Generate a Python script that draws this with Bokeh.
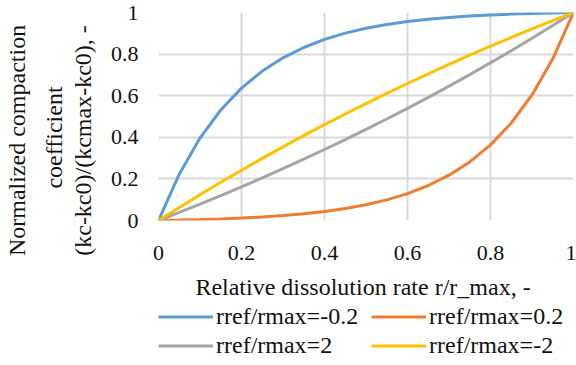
from bokeh.plotting import figure
from bokeh.models import Legend, LegendItem, FixedTicker, Range1d, CustomJSTickFormatter, LinearAxis
from bokeh.layouts import column
from bokeh.embed import file_html
from bokeh.resources import INLINE

x = [0, 0.05, 0.1, 0.15, 0.2, 0.25, 0.3, 0.35, 0.4, 0.45, 0.5,
     0.55, 0.6, 0.65, 0.7, 0.75, 0.8, 0.85, 0.9, 0.95, 1]
y_m02 = [0, 0.2227, 0.3961, 0.5312, 0.6364, 0.7183, 0.7821, 0.8318, 0.8705, 0.9007, 0.9241,
         0.9424, 0.9567, 0.9677, 0.9764, 0.9831, 0.9883, 0.9924, 0.9956, 0.9981, 1]
y_p02 = [0, 0.0019, 0.0044, 0.0076, 0.0117, 0.0169, 0.0236, 0.0323, 0.0433, 0.0576, 0.0759,
         0.0993, 0.1295, 0.1682, 0.2179, 0.2817, 0.3636, 0.4688, 0.6039, 0.7773, 1]
y_p2 = [0, 0.0390, 0.0790, 0.1201, 0.1621, 0.2052, 0.2495, 0.2948, 0.3413, 0.3890, 0.4378,
        0.4880, 0.5393, 0.5920, 0.6460, 0.7014, 0.7581, 0.8164, 0.8761, 0.9373, 1]
y_m2 = [0, 0.0627, 0.1239, 0.1836, 0.2419, 0.2986, 0.3540, 0.4080, 0.4607, 0.5120, 0.5622,
        0.6110, 0.6587, 0.7052, 0.7505, 0.7948, 0.8379, 0.8799, 0.9210, 0.9610, 1]

series_names = ["rref/rmax=-0.2", "rref/rmax=0.2", "rref/rmax=2", "rref/rmax=-2"]
series_values = [y_m02, y_p02, y_p2, y_m2]
colors = ["#5B9BD5", "#ED7D31", "#A5A5A5", "#FFC000"]

ticks = [0, 0.2, 0.4, 0.6, 0.8, 1]
x_title = "Relative  dissolution rate r/r_max, -"
y_title_lines = ["Normalized  compaction", "coefficient", "(kc-kc0)/(kcmax-kc0),  -"]

FONT = "Liberation Serif"
TXT = "#111111"
PAD = "\u00a0" * 7   # shifts the rotated titles a little below the frame centre

p = figure(width=576, height=305, x_range=Range1d(0, 1), y_range=Range1d(0, 1),
           output_backend="svg", toolbar_location=None,
           min_border_left=155, min_border_right=3, min_border_top=12, min_border_bottom=85)
p.outline_line_color = None
p.background_fill_color = "white"

fmt = CustomJSTickFormatter(code="return String(Math.round(tick*10)/10);")
for ax in (p.xaxis[0], p.yaxis[0]):
    ax.ticker = FixedTicker(ticks=ticks)
    ax.formatter = fmt
    ax.axis_line_color = None
    ax.major_tick_line_color = None
    ax.minor_tick_line_color = None
    ax.major_tick_out = 0
    ax.major_label_text_font = FONT
    ax.major_label_text_font_size = "22px"
    ax.major_label_text_color = TXT
    ax.axis_label_text_font = FONT
    ax.axis_label_text_font_size = "24px"
    ax.axis_label_text_font_style = "normal"
    ax.axis_label_text_color = TXT

p.xaxis.major_label_standoff = 25
p.yaxis.major_label_standoff = 20
p.xaxis.axis_label = x_title
p.xaxis.axis_label_standoff = 11
p.yaxis.axis_label = y_title_lines[2] + PAD
p.yaxis.axis_label_standoff = 12

# two more title lines as label-only axes on the left
for txt, standoff in [(y_title_lines[1], 0), (y_title_lines[0], 8)]:
    ax = LinearAxis(axis_label=txt + PAD, ticker=FixedTicker(ticks=[]),
                    axis_line_color=None, major_tick_line_color=None, major_tick_out=0,
                    minor_tick_line_color=None, major_label_text_font_size="0px",
                    major_label_standoff=0,
                    axis_label_standoff=standoff, axis_label_text_font=FONT,
                    axis_label_text_font_size="24px", axis_label_text_font_style="normal",
                    axis_label_text_color=TXT)
    p.add_layout(ax, "left")

p.xgrid.ticker = FixedTicker(ticks=ticks)
p.ygrid.ticker = FixedTicker(ticks=ticks)
p.grid.grid_line_color = "#d9d9d9"
p.grid.grid_line_width = 2

for vals, c in zip(series_values, colors):
    p.line(x, vals, line_color=c, line_width=3)

# legend panel below the chart (its series proxies lie outside its visible ranges)
pl = figure(width=576, height=60, output_backend="svg", toolbar_location=None,
            x_range=Range1d(2, 3), y_range=Range1d(2, 3),
            x_axis_type=None, y_axis_type=None,
            min_border_left=155, min_border_right=0, min_border_top=0, min_border_bottom=0)
pl.outline_line_color = None
proxies = [pl.line(x, vals, line_color=c, line_width=3) for vals, c in zip(series_values, colors)]
order = [0, 2, 1, 3]
items = [LegendItem(label=series_names[i], renderers=[proxies[i]]) for i in order]
legend = Legend(items=items, ncols=2, location=(0, 6),
                glyph_width=55, glyph_height=19, label_height=19, label_width=153,
                label_standoff=3, spacing=2, padding=0, margin=0, border_line_color=None,
                background_fill_alpha=0, label_text_font=FONT, label_text_font_size="24px",
                label_text_color=TXT)
pl.add_layout(legend, "center")

layout = column(p, pl, spacing=0)
open("out.html", "w").write(file_html(layout, INLINE))
